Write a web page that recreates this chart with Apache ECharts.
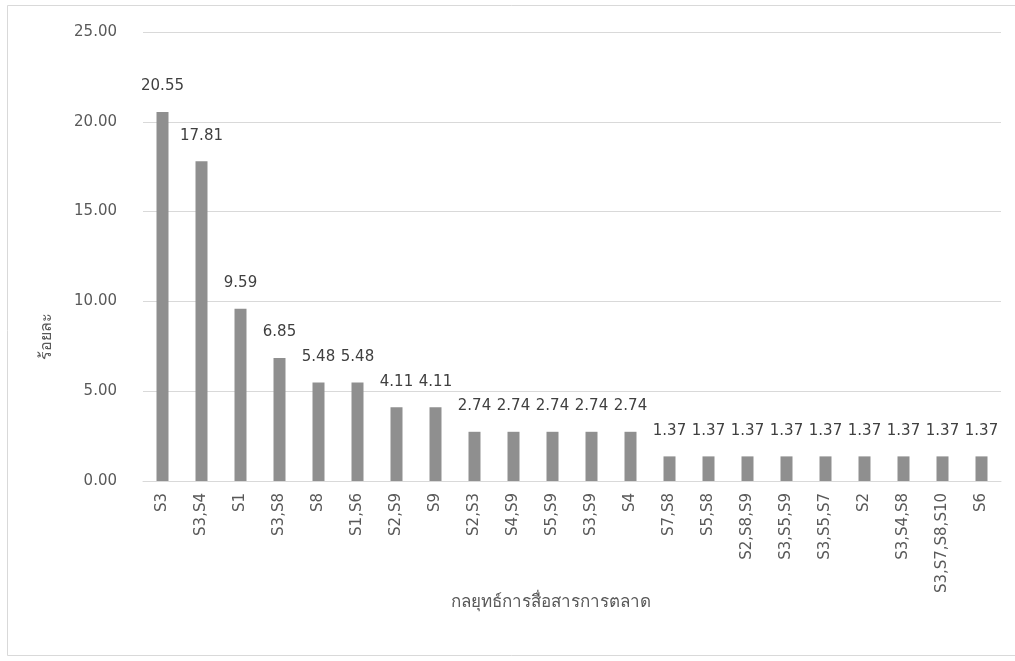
<!DOCTYPE html>
<html><head><meta charset="utf-8">
<script src="https://cdn.jsdelivr.net/npm/echarts@6/dist/echarts.min.js"></script>
<style>html,body{margin:0;padding:0;background:#fff}#c{width:1015px;height:661px}</style>
</head><body><div id="c"></div>
<script>
const categories = ['S3','S3,S4','S1','S3,S8','S8','S1,S6','S2,S9','S9','S2,S3','S4,S9','S5,S9','S3,S9','S4','S7,S8','S5,S8','S2,S8,S9','S3,S5,S9','S3,S5,S7','S2','S3,S4,S8','S3,S7,S8,S10','S6'];
const values = [20.55,17.81,9.59,6.85,5.48,5.48,4.11,4.11,2.74,2.74,2.74,2.74,2.74,1.37,1.37,1.37,1.37,1.37,1.37,1.37,1.37,1.37];
const xTitle = 'กลยุทธ์การสื่อสารการตลาด';
const yTitle = 'ร้อยละ';
const FONT = '"DejaVu Sans","Noto Sans",sans-serif';
const chart = echarts.init(document.getElementById('c'));
chart.setOption({
  animation:false,
  backgroundColor:'#fff',
  graphic:[
    {type:'rect',shape:{x:7.5,y:5.5,width:1020,height:650},style:{fill:'none',stroke:'#d9d9d9',lineWidth:1}},
    {type:'text',x:47,y:336,rotation:Math.PI/2,style:{text:yTitle,fill:'#595959',font:'16px '+FONT,textAlign:'center',textVerticalAlign:'middle'}},
    {type:'text',x:551,y:603,style:{text:xTitle,fill:'#595959',font:'17px '+FONT,textAlign:'center',textVerticalAlign:'middle'}}
  ],
  grid:{left:143,right:14,top:32,bottom:180},
  xAxis:{type:'category',data:categories,
    axisLine:{lineStyle:{color:'#d9d9d9'}},axisTick:{show:false},
    axisLabel:{rotate:90,color:'#595959',fontSize:15,fontFamily:FONT,margin:12,interval:0}},
  yAxis:{type:'value',min:0,max:25,interval:5,
    axisLine:{show:false},axisTick:{show:false},
    splitLine:{lineStyle:{color:'#d9d9d9'}},
    axisLabel:{formatter:v=>v.toFixed(2),color:'#595959',fontSize:15,fontFamily:FONT,margin:26}},
  series:[{type:'bar',data:values,barWidth:12,itemStyle:{color:'#8f8f8f'},
    label:{show:true,position:'top',distance:18,formatter:p=>p.value.toFixed(2),color:'#404040',fontSize:15,fontFamily:FONT}}]
});
</script></body></html>
